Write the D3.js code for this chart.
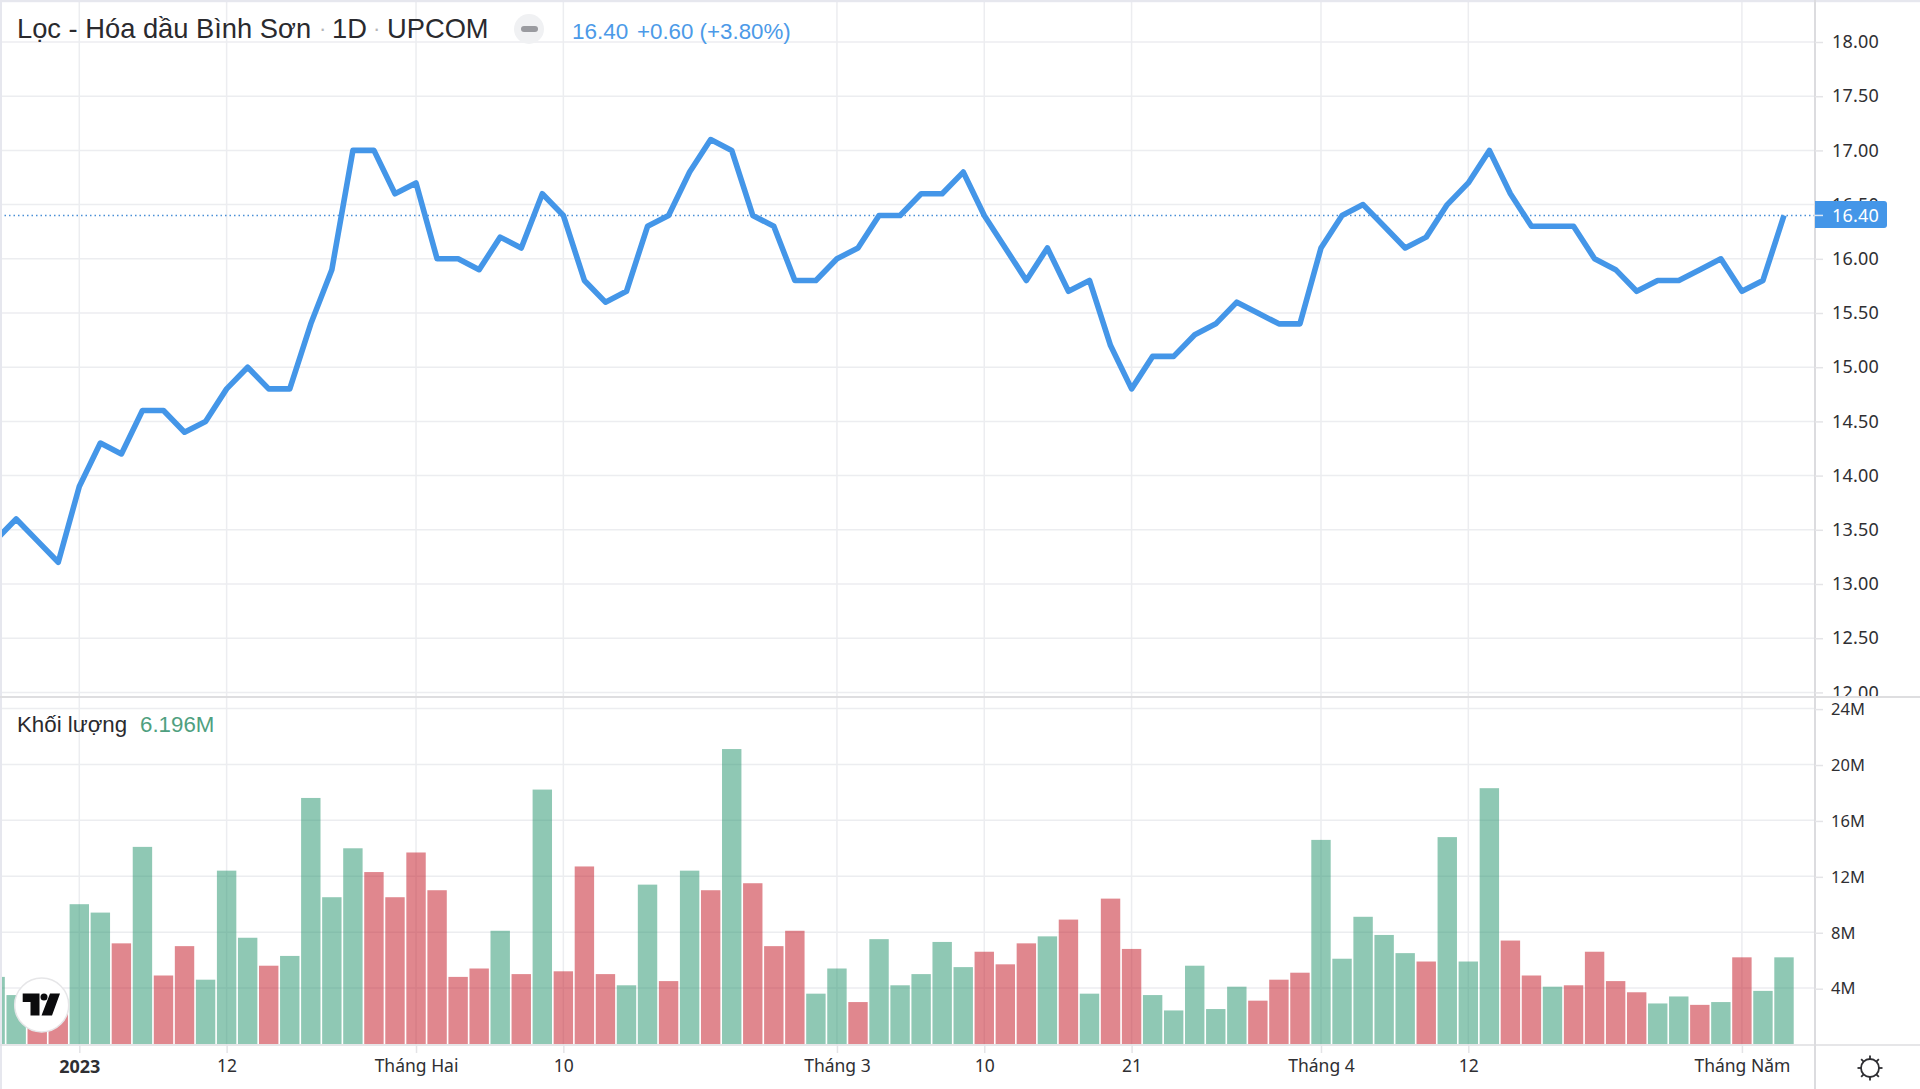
<!DOCTYPE html>
<html><head><meta charset="utf-8">
<script src="https://cdnjs.cloudflare.com/ajax/libs/d3/7.8.5/d3.min.js"></script>
<style>html,body{margin:0;padding:0;background:#fff;overflow:hidden}svg{display:block}
.ax text{font-family:"Noto Sans",sans-serif;font-size:18px;fill:#2f2f33}
</style></head><body><svg id="c" width="1920" height="1089"></svg>
<script>
const firstIndex=-4;
const closes=[13.4,13.6,13.4,13.2,13.9,14.3,14.2,14.6,14.6,14.4,14.5,14.8,15,14.8,14.8,15.4,15.9,17,17,16.6,16.7,16,16,15.9,16.2,16.1,16.6,16.4,15.8,15.6,15.7,16.3,16.4,16.8,17.1,17,16.4,16.3,15.8,15.8,16,16.1,16.4,16.4,16.6,16.6,16.8,16.4,16.1,15.8,16.1,15.7,15.8,15.2,14.8,15.1,15.1,15.3,15.4,15.6,15.5,15.4,15.4,16.1,16.4,16.5,16.3,16.1,16.2,16.5,16.7,17,16.6,16.3,16.3,16.3,16,15.9,15.7,15.8,15.8,15.9,16,15.7,15.8,16.4];
const volumes=[4.8,3.5,2.5,3,10,9.4,7.2,14.1,4.9,7,4.6,12.4,7.6,5.6,6.3,17.6,10.5,14,12.3,10.5,13.7,11,4.8,5.4,8.1,5,18.2,5.2,12.7,5,4.2,11.4,4.5,12.4,11,21.1,11.5,7,8.1,3.6,5.4,3,7.5,4.2,5,7.3,5.5,6.6,5.7,7.2,7.7,8.9,3.6,10.4,6.8,3.5,2.4,5.6,2.5,4.1,3.1,4.6,5.1,14.6,6.1,9.1,7.8,6.5,5.9,14.8,5.9,18.3,7.4,4.9,4.1,4.2,6.6,4.5,3.7,2.9,3.4,2.8,3,6.2,3.8,6.2];
const volumeDirs="ggrr"+"ggrgrrgggrgggg"+"rrrrrr"+"grgrrr"+"ggrgrgrrr"+"ggrggggg"+"rrrgrgrr"+"gggggrrr"+"gggggrggg"+"rrgrrrr"+"ggrgrgg";
const priceTicks=[12,12.5,13,13.5,14,14.5,15,15.5,16,16.5,17,17.5,18];
const volumeTicks=[4,8,12,16,20,24];
const dateTickIndex=[0,7,16,23,36,43,50,59,66,79];
const dateTickLabels=["2023","12","Tháng Hai","10","Tháng 3","10","21","Tháng 4","12","Tháng Năm"];
const lastPrice=16.40;

const W=1920,H=1089,axisX=1815,base=1045,sep=697;
const svg=d3.select("#c");
const x=d3.scaleLinear().domain([0,81]).range([79.3,1784]);
const yP=d3.scaleLinear().domain([12,18]).range([692.4,42]);
const yV=d3.scaleLinear().domain([0,24]).range([1044,708.5]);
const grid="#ecedf0";

const defs=svg.append("defs");
defs.append("clipPath").attr("id","plot").append("rect").attr("x",0).attr("y",0).attr("width",axisX).attr("height",base);
defs.append("clipPath").attr("id","pax").append("rect").attr("x",0).attr("y",0).attr("width",W-axisX).attr("height",sep-1);

// grid
svg.append("g").selectAll("line").data(priceTicks).join("line")
 .attr("x1",0).attr("x2",axisX).attr("y1",d=>yP(d)).attr("y2",d=>yP(d)).attr("stroke",grid).attr("stroke-width",1.5);
svg.append("g").selectAll("line").data(volumeTicks).join("line")
 .attr("x1",0).attr("x2",axisX).attr("y1",d=>yV(d)).attr("y2",d=>yV(d)).attr("stroke",grid).attr("stroke-width",1.5);
svg.append("g").selectAll("line").data(dateTickIndex).join("line")
 .attr("x1",d=>x(d)).attr("x2",d=>x(d)).attr("y1",0).attr("y2",base).attr("stroke",grid).attr("stroke-width",1.5);

// volume bars
const vdata=volumes.map((v,i)=>({i:i+firstIndex,v,d:volumeDirs[i]}));
const bw=19.4;
svg.append("g").attr("clip-path","url(#plot)").selectAll("rect").data(vdata).join("rect")
 .attr("x",d=>x(d.i)-bw/2).attr("width",bw).attr("y",d=>yV(d.v)).attr("height",d=>yV(0)-yV(d.v))
 .attr("fill",d=>d.d==="g"?"rgba(32,145,105,.5)":"rgba(193,15,29,.5)");

// last price dotted line
svg.append("line").attr("x1",0).attr("x2",axisX).attr("y1",yP(lastPrice)).attr("y2",yP(lastPrice))
 .attr("stroke","#4a8fd6").attr("stroke-width",1.4).attr("stroke-dasharray","1.5 3");

// price line
const line=d3.line().x((d,i)=>x(i+firstIndex)).y(d=>yP(d));
svg.append("path").datum(closes).attr("clip-path","url(#plot)").attr("d",line).attr("fill","none")
 .attr("stroke","#4496e8").attr("stroke-width",5.6).attr("stroke-linejoin","round").attr("stroke-linecap","butt");

// frame
svg.append("rect").attr("x",0).attr("y",0).attr("width",W).attr("height",2.2).attr("fill","#e6e7ee");
svg.append("rect").attr("x",0).attr("y",0).attr("width",2).attr("height",H).attr("fill","#e6e7ee");
svg.append("line").attr("x1",0).attr("x2",W).attr("y1",sep).attr("y2",sep).attr("stroke","#dedee0").attr("stroke-width",2);
svg.append("line").attr("x1",0).attr("x2",W).attr("y1",base).attr("y2",base).attr("stroke","#dedee0").attr("stroke-width",1.6);
svg.append("line").attr("x1",axisX).attr("x2",axisX).attr("y1",0).attr("y2",H).attr("stroke","#dcdcdf").attr("stroke-width",2);

// axes
function styleAxis(g){g.classed("ax",true);g.select(".domain").remove();g.selectAll(".tick line").attr("stroke","#e4e4e7").attr("stroke-width",1.5);}
svg.append("g").attr("clip-path","url(#pax)").attr("transform",`translate(${axisX},0)`)
 .call(d3.axisRight(yP).tickValues(priceTicks).tickFormat(d3.format(".2f")).tickSize(8).tickPadding(9)).call(styleAxis)
 .selectAll("text").style("letter-spacing","0.2px");
svg.append("g").attr("transform",`translate(${axisX},0.6)`)
 .call(d3.axisRight(yV).tickValues(volumeTicks).tickFormat(d=>d+"M").tickSize(8).tickPadding(8)).call(styleAxis)
 .selectAll("text").style("font-size","16.5px");
const xa=svg.append("g").attr("transform",`translate(0,${base})`)
 .call(d3.axisBottom(x).tickValues(dateTickIndex).tickFormat((d,i)=>dateTickLabels[i]).tickSize(8).tickPadding(7)).call(styleAxis);
xa.selectAll("text").style("font-size",(d,i)=>i===0?"18px":"17.5px").style("font-weight",(d,i)=>i===0?"700":"400");

// last price label
svg.append("path").attr("d",`M${axisX},201h69a3,3 0 0 1 3,3v21a3,3 0 0 1 -3,3h-69z`).attr("fill","#4496e8");
svg.append("line").attr("x1",axisX).attr("x2",axisX+8).attr("y1",yP(lastPrice)).attr("y2",yP(lastPrice)).attr("stroke","#dbe9f8").attr("stroke-width",1.5);
svg.append("text").attr("x",axisX+17).attr("y",yP(lastPrice)).attr("dy","0.34em").text(lastPrice.toFixed(2))
 .attr("font-family",'"Noto Sans",sans-serif').attr("font-size",18).attr("letter-spacing",0.2).attr("fill","#fff");

// legend
const ls='"Liberation Sans",Arial,sans-serif';
function t(xp,yp,s,size,fill,fam){return svg.append("text").attr("x",xp).attr("y",yp).text(s).attr("font-family",fam||ls).attr("font-size",size).attr("fill",fill);}
t(17,38,"Lọc - Hóa dầu Bình Sơn",27.3,"#2a2a2e");
t(319,36,"·",22,"#b5b5b8");
t(332,38,"1D",27.3,"#2a2a2e");
t(373,36,"·",22,"#b5b5b8");
t(387,38,"UPCOM",27.3,"#2a2a2e");
svg.append("circle").attr("cx",529).attr("cy",29).attr("r",15).attr("fill","#f0f1f3");
svg.append("rect").attr("x",521).attr("y",26).attr("width",17).attr("height",6).attr("rx",3).attr("fill","#9a9ba0");
t(572,39,"16.40",22.5,"#4c9ae8");
t(637,39,"+0.60 (+3.80%)",22.3,"#4c9ae8");
t(17,732,"Khối lượng",22.3,"#2a2a2e");
t(140,732,"6.196M",22.3,"#4f9f80");

// logo
svg.append("circle").attr("cx",41.7).attr("cy",1005).attr("r",27).attr("fill","#fff").attr("stroke","#e6e6e8").attr("stroke-width",1.5);
svg.append("path").attr("d","M22.7,993.5H39.5V1015.5H30.5V1002H22.7Z M50,993.5H60L52,1015.5H41.5Z").attr("fill","#0b0b0d");
svg.append("circle").attr("cx",44).attr("cy",997).attr("r",3.5).attr("fill","#0b0b0d");

// settings icon
const gear=svg.append("g").attr("transform","translate(1870,1068)").attr("stroke","#2e2e32").attr("fill","none").attr("stroke-width",1.8);
gear.append("circle").attr("r",9);
d3.range(8).forEach(k=>{const a=k*Math.PI/4;gear.append("line").attr("x1",9*Math.cos(a)).attr("y1",9*Math.sin(a)).attr("x2",12.5*Math.cos(a)).attr("y2",12.5*Math.sin(a));});
</script></body></html>
